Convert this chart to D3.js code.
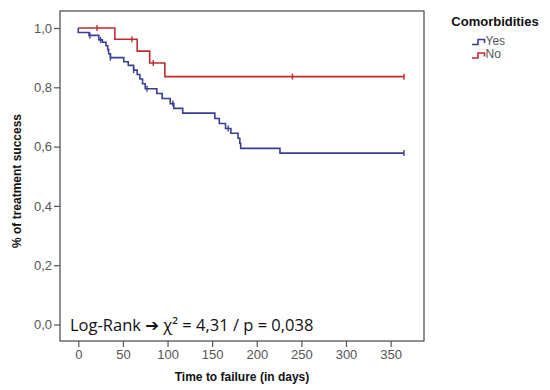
<!DOCTYPE html>
<html><head><meta charset="utf-8">
<script src="https://cdn.jsdelivr.net/npm/d3@7"></script>
<style>body{margin:0;background:#fff}svg{display:block}</style>
</head><body>
<script>
// ---- data ----
const xTicks = [0, 50, 100, 150, 200, 250, 300, 350];
const yTicks = [0, 0.2, 0.4, 0.6, 0.8, 1.0];
const groups = ["Yes", "No"];
// Kaplan-Meier step times and survival after each event
const yesTimes = [0, 12, 23, 27, 31, 33, 34, 36, 51, 56, 62, 66, 69, 72, 75, 88, 94, 103, 107, 117, 153, 158, 165, 171, 179, 181, 182, 226];
const yesSurv  = [0.985, 0.975, 0.96, 0.952, 0.94, 0.927, 0.913, 0.9, 0.886, 0.874, 0.858, 0.843, 0.828, 0.812, 0.795, 0.779, 0.762, 0.745, 0.729, 0.713, 0.695, 0.678, 0.661, 0.645, 0.628, 0.611, 0.594, 0.578];
const yesCensored = [13, 25, 36, 62, 77, 106, 168, 365];
const noTimes = [41, 66, 80, 97];
const noSurv  = [0.962, 0.922, 0.882, 0.836];
const noCensored = [21, 60, 84, 240, 365];
const endTime = 365;

const W = 550, H = 390;
const svg = d3.select("body").append("svg").attr("width", W).attr("height", H);
const x = d3.scaleLinear().domain([0, 300]).range([78.3, 346]);
const y = d3.scaleLinear().domain([0, 1]).range([324.5, 28]);
const frame = {x0: 60, x1: 424, y0: 11, y1: 341};
const font = "'Liberation Sans', Arial, sans-serif";
const colors = {Yes: "#3a3f96", No: "#c02a2f"};

svg.append("rect").attr("x", frame.x0).attr("y", frame.y0)
  .attr("width", frame.x1 - frame.x0).attr("height", frame.y1 - frame.y0)
  .attr("fill", "none").attr("stroke", "#555").attr("stroke-width", 1.3);

// y axis
const yAxis = d3.axisLeft(y).tickValues(yTicks).tickSize(6).tickPadding(2)
  .tickFormat(d => d3.format(".1f")(d).replace(".", ","));
const gy = svg.append("g").attr("transform", `translate(${frame.x0},0)`).call(yAxis);
gy.select(".domain").remove();
gy.selectAll("line").attr("stroke", "#555").attr("stroke-width", 1.2);
gy.selectAll("text").attr("fill", "#555").style("font", `13px ${font}`);

// x axis
const xAxis = d3.axisBottom(x).tickValues(xTicks).tickSize(6).tickPadding(3);
const gx = svg.append("g").attr("transform", `translate(0,${frame.y1})`).call(xAxis);
gx.select(".domain").remove();
gx.selectAll("line").attr("stroke", "#555").attr("stroke-width", 1.2);
gx.selectAll("text").attr("fill", "#555").style("font", `13px ${font}`);

// titles
svg.append("text").attr("x", 242).attr("y", 381).attr("text-anchor", "middle")
  .style("font", `bold 12px ${font}`).attr("fill", "#111").text("Time to failure (in days)");
svg.append("text").attr("transform", "translate(21,181) rotate(-90)").attr("text-anchor", "middle")
  .style("font", `bold 12px ${font}`).attr("fill", "#111").text("% of treatment success");

// curves
function build(times, surv) {
  const pts = [[0, 1]];
  times.forEach((t, i) => pts.push([t, surv[i]]));
  pts.push([endTime, surv[surv.length - 1]]);
  return pts;
}
function survAt(pts, t) {
  let v = 1;
  pts.forEach(p => { if (p[0] <= t) v = p[1]; });
  return v;
}
const line = d3.line().x(d => x(d[0])).y(d => y(d[1])).curve(d3.curveStepAfter);
const series = [
  {name: "No", pts: build(noTimes, noSurv), cens: noCensored},
  {name: "Yes", pts: build(yesTimes, yesSurv), cens: yesCensored}
];
series.forEach(s => {
  svg.append("path").datum(s.pts).attr("d", line).attr("fill", "none")
    .attr("stroke", colors[s.name]).attr("stroke-width", 1.6);
  svg.append("g").selectAll("line").data(s.cens).join("line")
    .attr("x1", d => x(d)).attr("x2", d => x(d))
    .attr("y1", d => y(survAt(s.pts, d)) - 3).attr("y2", d => y(survAt(s.pts, d)) + 3)
    .attr("stroke", colors[s.name]).attr("stroke-width", 1.4);
});

// legend
svg.append("text").attr("x", 495).attr("y", 26).attr("text-anchor", "middle")
  .style("font", `bold 13px ${font}`).attr("fill", "#111").text("Comorbidities");
groups.forEach((g, i) => {
  const yy = 44.5 + i * 13.5;
  svg.append("path").attr("d", `M472,${yy}H478V${yy - 5}H484.5V${yy - 1.5}`)
    .attr("fill", "none").attr("stroke", colors[g]).attr("stroke-width", 1.6);
  svg.append("text").attr("x", 485.5).attr("y", yy).style("font", `12px ${font}`)
    .attr("fill", "#555").text(g);
});

// annotation
const ann = svg.append("text").attr("x", 70).attr("y", 331)
  .style("font", `16.5px 'Open Sans', 'Liberation Sans', sans-serif`).attr("fill", "#111");
ann.append("tspan").text("Log-Rank ");
ann.append("tspan").style("font-family", "'DejaVu Sans'").text("➔");
ann.append("tspan").text(" χ² = 4,31 / p = 0,038");
</script>
</body></html>
